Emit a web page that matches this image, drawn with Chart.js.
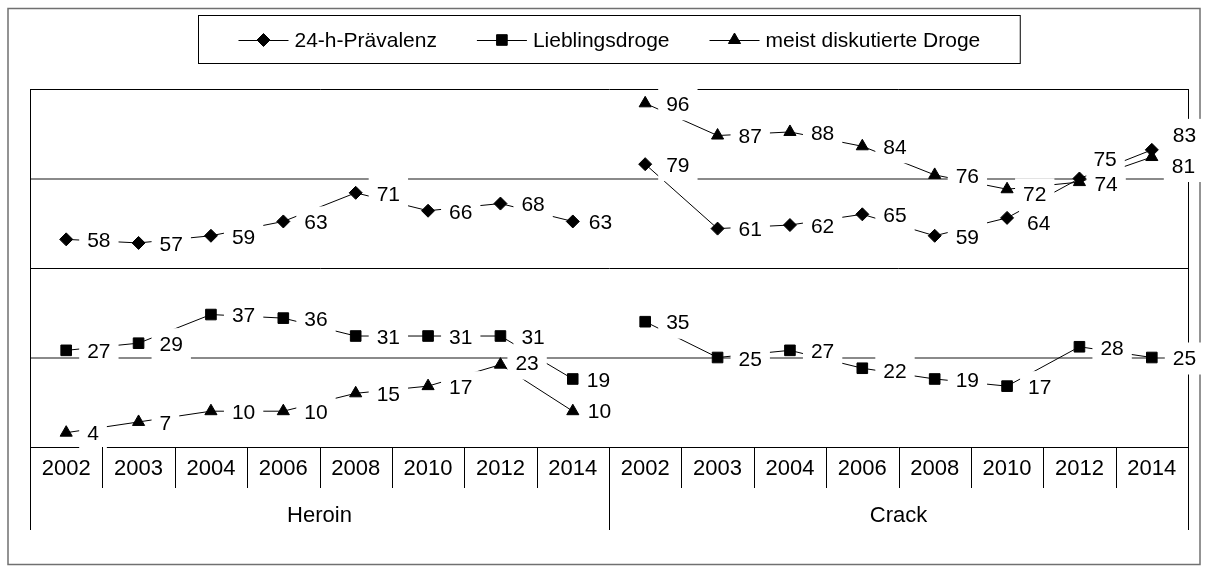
<!DOCTYPE html>
<html><head><meta charset="utf-8">
<script src="https://cdn.jsdelivr.net/npm/chart.js@4.4.1/dist/chart.umd.min.js"></script>
<style>html,body{margin:0;padding:0;background:#fff;}canvas{display:block;}</style>
</head><body>
<canvas id="c" width="1208" height="573"></canvas>
<script>
// ---- data ----
const years = ['2002','2003','2004','2006','2008','2010','2012','2014','2002','2003','2004','2006','2008','2010','2012','2014'];
const groups = ['Heroin','Crack'];
const groupSize = 8;
const praevalenz      = [58,57,59,63,71,66,68,63, 79,61,62,65,59,64,75,83];
const lieblingsdroge  = [27,29,37,36,31,31,31,19, 35,25,27,22,19,17,28,25];
const meistDiskutiert = [4,7,10,10,15,17,23,10, 96,87,88,84,76,72,74,81];
const seriesNames = ['24-h-Prävalenz','Lieblingsdroge','meist diskutierte Droge'];
const yMin = 0, yMax = 100, yStep = 25;

// ---- styles ----
const FONT = '"Liberation Sans", Arial, Helvetica, sans-serif';
const defaultLabelOffset = [21, 1];
const labelOffsets = {
  0: {7:[16,1], 13:[20,5], 14:[14,-19], 15:[21,-15]},
  1: {7:[14,1], 9:[21,2], 11:[21,3]},
  2: {6:[15,-1], 7:[15,0], 13:[16,5], 14:[15,2], 15:[20,9]}
};

function ds(label, data, style, radius) {
  return {
    label, data,
    borderColor: '#000', backgroundColor: '#000', borderWidth: 1,
    pointStyle: style, pointRadius: radius, pointHoverRadius: radius,
    pointBackgroundColor: '#000', pointBorderColor: '#000', pointBorderWidth: 1,
    tension: 0, fill: false,
    segment: { borderColor: c => (c.p0DataIndex % groupSize === groupSize - 1) ? 'rgba(0,0,0,0)' : '#000' }
  };
}

function drawMarker(ctx, style, r, x, y) {
  ctx.beginPath();
  if (style === 'rectRot') {
    ctx.moveTo(x, y - r); ctx.lineTo(x + r, y); ctx.lineTo(x, y + r); ctx.lineTo(x - r, y);
  } else if (style === 'rect') {
    const s = Math.SQRT1_2 * r; ctx.rect(x - s, y - s, 2 * s, 2 * s);
  } else {
    const w = r * Math.sin(Math.PI * 2 / 3);
    ctx.moveTo(x, y - r); ctx.lineTo(x + w, y + r / 2); ctx.lineTo(x - w, y + r / 2);
  }
  ctx.closePath();
  ctx.fillStyle = '#000'; ctx.strokeStyle = '#000'; ctx.lineWidth = 1;
  ctx.fill(); ctx.stroke();
}

const decor = {
  id: 'decor',
  beforeDraw(chart) {
    const ctx = chart.ctx, ca = chart.chartArea;
    ctx.save();
    ctx.fillStyle = '#fff'; ctx.fillRect(0, 0, chart.width, chart.height);
    // outer frame
    ctx.strokeStyle = '#707070'; ctx.lineWidth = 1.5;
    ctx.strokeRect(8, 8.5, chart.width - 16, chart.height - 17);
    // legend
    ctx.font = '21px ' + FONT;
    const items = chart.data.datasets.map(d => ({ d, tw: ctx.measureText(d.label).width }));
    const lineW = 50, gapT = 6, gapI = 40;
    let W = 0;
    items.forEach((it, i) => { W += lineW + gapT + it.tw + (i ? gapI : 0); });
    const cx = (ca.left + ca.right) / 2;
    const bx = Math.round(cx - (W + 80) / 2) + 0.5, by = 15.5;
    ctx.strokeStyle = '#000'; ctx.lineWidth = 1;
    ctx.strokeRect(bx, by, W + 80, 48);
    let x = bx + 40;
    const ly = 40;
    items.forEach(it => {
      ctx.beginPath(); ctx.moveTo(x, ly + 0.5); ctx.lineTo(x + lineW, ly + 0.5);
      ctx.strokeStyle = '#000'; ctx.lineWidth = 1; ctx.stroke();
      drawMarker(ctx, it.d.pointStyle, it.d.pointRadius, x + lineW / 2, ly);
      ctx.fillStyle = '#000'; ctx.textBaseline = 'middle'; ctx.textAlign = 'left';
      ctx.fillText(it.d.label, x + lineW + gapT, ly + 1);
      x += lineW + gapT + it.tw + gapI;
    });
    ctx.restore();
  },
  beforeDatasetsDraw(chart) {
    const ctx = chart.ctx, ca = chart.chartArea;
    ctx.save();
    ctx.strokeStyle = '#000'; ctx.lineWidth = 1;
    ctx.beginPath();
    const rx = Math.round(ca.right) + 0.5;
    ctx.moveTo(rx, ca.top); ctx.lineTo(rx, ca.bottom);
    ctx.stroke();
    ctx.restore();
  },
  afterDatasetsDraw(chart) {
    const ctx = chart.ctx;
    ctx.save();
    ctx.font = '21px ' + FONT;
    ctx.textBaseline = 'middle'; ctx.textAlign = 'left';
    const labels = [];
    chart.data.datasets.forEach((d, di) => {
      const meta = chart.getDatasetMeta(di);
      meta.data.forEach((pt, i) => {
        const off = (labelOffsets[di] && labelOffsets[di][i]) || defaultLabelOffset;
        const txt = String(d.data[i]);
        const tx = pt.x + off[0], ty = pt.y + off[1];
        const tw = ctx.measureText(txt).width;
        labels.push({ txt, tx, ty, tw });
      });
    });
    ctx.fillStyle = '#fff';
    labels.forEach(l => ctx.fillRect(l.tx - 8, l.ty - 16, l.tw + 16, 32));
    ctx.fillStyle = '#000';
    labels.forEach(l => ctx.fillText(l.txt, l.tx, l.ty + 1));
    ctx.restore();
  },
  afterDraw(chart) {
    const ctx = chart.ctx, ca = chart.chartArea, xs = chart.scales.x;
    const n = chart.data.labels.length;
    const w = (ca.right - ca.left) / n;
    ctx.save();
    ctx.strokeStyle = '#000'; ctx.lineWidth = 1;
    for (let i = 0; i <= n; i++) {
      const x = Math.round(ca.left + i * w) + 0.5;
      const long = i % groupSize === 0;
      ctx.beginPath();
      ctx.moveTo(x, ca.bottom); ctx.lineTo(x, long ? 530 : 488);
      ctx.stroke();
    }
    ctx.fillStyle = '#000'; ctx.textAlign = 'center'; ctx.textBaseline = 'middle';
    ctx.font = '22px ' + FONT;
    chart.data.labels.forEach((lab, i) => {
      ctx.fillText(lab, xs.getPixelForValue(i), 469);
    });
    groups.forEach((g, gi) => {
      const x0 = xs.getPixelForValue(gi * groupSize), x1 = xs.getPixelForValue(gi * groupSize + groupSize - 1);
      ctx.fillText(g, (x0 + x1) / 2, 516);
    });
    ctx.restore();
  }
};

new Chart(document.getElementById('c'), {
  type: 'line',
  data: {
    labels: years,
    datasets: [
      ds(seriesNames[0], praevalenz, 'rectRot', 6.5),
      ds(seriesNames[1], lieblingsdroge, 'rect', 7.5),
      ds(seriesNames[2], meistDiskutiert, 'triangle', 7)
    ]
  },
  options: {
    responsive: false, animation: false, devicePixelRatio: 1,
    layout: { padding: { top: 89, right: 20, left: 0, bottom: 0 } },
    plugins: { legend: { display: false }, tooltip: { enabled: false } },
    scales: {
      x: {
        display: true, offset: true,
        ticks: { display: false }, grid: { display: false, offset: true }, border: { display: false },
        afterFit: s => { s.height = 126; }
      },
      y: {
        min: yMin, max: yMax,
        ticks: { display: false, stepSize: yStep },
        grid: {
          drawTicks: false,
          color: c => (c.tick.value === 25 || c.tick.value === 75) ? '#8a8a8a' : '#000',
          lineWidth: c => (c.tick.value === 25 || c.tick.value === 75) ? 2 : 1
        },
        border: { display: true, color: '#000', width: 1 },
        afterFit: s => { s.width = 30; }
      }
    }
  },
  plugins: [decor]
});
</script>
</body></html>
